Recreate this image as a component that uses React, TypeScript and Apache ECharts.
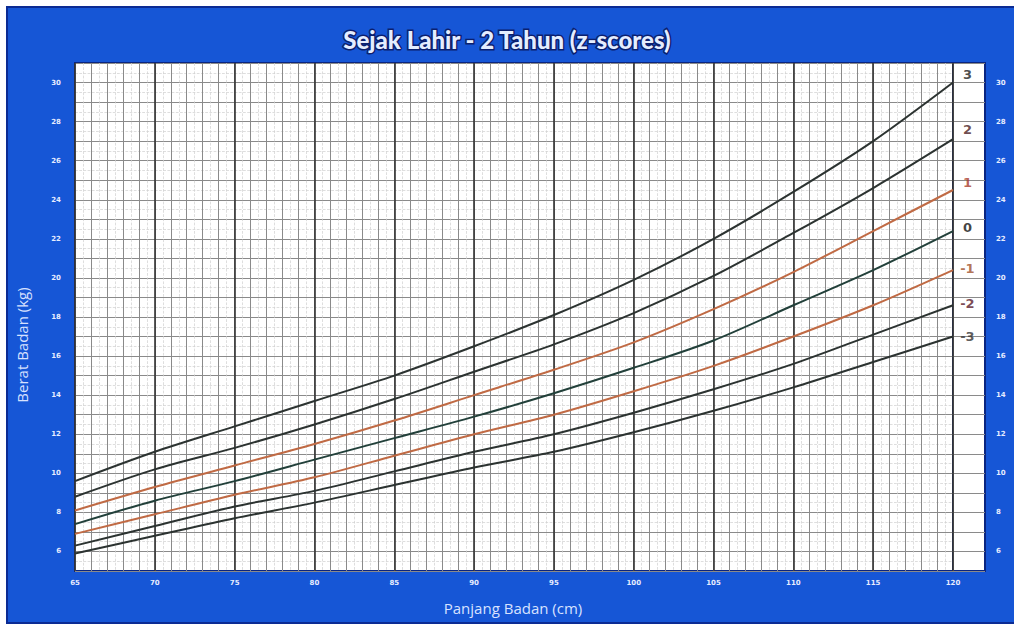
import React, { useEffect, useRef } from "react";
import * as echarts from "echarts";

const lengths = [65, 70, 75, 80, 85, 90, 95, 100, 105, 110, 115, 120];
const sdNeg3 = [5.9, 6.8, 7.7, 8.5, 9.4, 10.3, 11.1, 12.1, 13.2, 14.4, 15.7, 17.0];
const sdNeg2 = [6.3, 7.3, 8.3, 9.1, 10.1, 11.1, 12.0, 13.1, 14.3, 15.6, 17.1, 18.6];
const sdNeg1 = [6.9, 7.9, 8.9, 9.8, 10.9, 12.0, 13.0, 14.2, 15.5, 17.0, 18.6, 20.4];
const sd0 = [7.4, 8.6, 9.6, 10.7, 11.8, 12.9, 14.1, 15.4, 16.8, 18.6, 20.4, 22.4];
const sd1 = [8.1, 9.3, 10.4, 11.5, 12.7, 14.0, 15.3, 16.7, 18.4, 20.3, 22.4, 24.5];
const sd2 = [8.8, 10.2, 11.3, 12.5, 13.8, 15.2, 16.6, 18.2, 20.1, 22.3, 24.6, 27.1];
const sd3 = [9.6, 11.1, 12.4, 13.7, 15.0, 16.5, 18.1, 19.9, 22.0, 24.4, 27.0, 30.0];

const zNames = ["3", "2", "1", "0", "-1", "-2", "-3"];
const zLabelY = [30.4, 27.6, 24.9, 22.6, 20.5, 18.7, 17.0];

const DARK = "#2c3331";
const GREEN = "#22403a";
const ORANGE = "#c06a44";

const curves = [
  { name: "3", data: sd3, color: DARK, label: "#1e1e1e" },
  { name: "2", data: sd2, color: DARK, label: "#4a1c22" },
  { name: "1", data: sd1, color: ORANGE, label: "#a83a2a" },
  { name: "0", data: sd0, color: GREEN, label: "#111111" },
  { name: "-1", data: sdNeg1, color: ORANGE, label: "#a0502a" },
  { name: "-2", data: sdNeg2, color: DARK, label: "#5a1a2a" },
  { name: "-3", data: sdNeg3, color: DARK, label: "#333333" },
];

export default function App() {
  const ref = useRef<HTMLDivElement>(null);
  useEffect(() => {
    if (!ref.current) return;
    const chart = echarts.init(ref.current, null, { renderer: "svg" });
    const tickLabel = {
      fontSize: 7,
      color: "#e6ecff",
      fontWeight: "bold" as const,
      fontFamily: "DejaVu Sans",
    };
    const evenFmt = (v: number) => (Math.round(v) % 2 === 0 && v >= 6 && v <= 30 ? String(v) : "");
    const option: any = {
      animation: false,
      backgroundColor: "#ffffff",
      title: {
        text: "Sejak Lahir - 2 Tahun (z-scores)",
        left: "center",
        top: 22,
        textStyle: {
          color: "#e4edff",
          fontSize: 24,
          fontWeight: 900,
          fontFamily: "Lato",
          textBorderColor: "#0b1f6e",
          textBorderWidth: 3,
        },
      },
      graphic: [
        {
          type: "rect",
          z: -10,
          shape: { x: 7, y: 7, width: 1012, height: 616 },
          style: { fill: "#1656d6", stroke: "#0b2b93", lineWidth: 2 },
        },
        {
          type: "text",
          x: 22,
          y: 345,
          rotation: Math.PI / 2,
          style: {
            text: "Berat Badan (kg)",
            fill: "#d8e2ff",
            fontSize: 15,
            fontFamily: "Open Sans",
            align: "center",
            verticalAlign: "middle",
          },
        },
        {
          type: "text",
          x: 513,
          y: 608,
          style: {
            text: "Panjang Badan (cm)",
            fill: "#d8e2ff",
            fontSize: 15,
            fontFamily: "Open Sans",
            align: "center",
            verticalAlign: "middle",
          },
        },
      ],
      grid: [
        {
          left: 75,
          right: 61,
          top: 63,
          bottom: 55,
          show: true,
          backgroundColor: "#ffffff",
          borderColor: "#0a2580",
          borderWidth: 2,
        },
        {
          left: 953,
          right: 29,
          top: 63,
          bottom: 55,
          show: true,
          backgroundColor: "#ffffff",
          borderColor: "#0a2580",
          borderWidth: 2,
        },
      ],
      xAxis: [
        {
          type: "value",
          gridIndex: 0,
          position: "top",
          min: 65,
          max: 120,
          interval: 1,
          z: 0,
          axisLine: { show: false },
          axisTick: { show: false },
          axisLabel: { show: false },
          splitLine: { show: true, lineStyle: { color: "#8a8a8a", width: 1 } },
          minorTick: { show: false, splitNumber: 2 },
          minorSplitLine: { show: true, lineStyle: { color: "#d0d0d0", width: 0.7, type: "dashed" } },
        },
        {
          type: "value",
          gridIndex: 0,
          position: "bottom",
          min: 65,
          max: 120,
          interval: 5,
          z: 1,
          axisLine: { show: false },
          axisTick: { show: false },
          axisLabel: { ...tickLabel, margin: 8 },
          splitLine: { show: true, lineStyle: { color: "#333333", width: 1.6 } },
        },
        {
          type: "value",
          gridIndex: 1,
          min: 0,
          max: 1,
          show: false,
        },
      ],
      yAxis: [
        {
          type: "value",
          gridIndex: 0,
          position: "left",
          min: 5,
          max: 31,
          interval: 1,
          z: 0,
          axisLine: { show: false },
          axisTick: { show: false },
          axisLabel: { ...tickLabel, margin: 14, formatter: evenFmt },
          splitLine: { show: true, lineStyle: { color: "#8a8a8a", width: 1 } },
          minorTick: { show: false, splitNumber: 2 },
          minorSplitLine: { show: true, lineStyle: { color: "#d0d0d0", width: 0.7, type: "dashed" } },
        },
        {
          type: "value",
          gridIndex: 1,
          position: "right",
          min: 5,
          max: 31,
          interval: 1,
          axisLine: { show: false },
          axisTick: { show: false },
          axisLabel: { ...tickLabel, margin: 11, formatter: evenFmt },
          splitLine: { show: true, lineStyle: { color: "#8a8a8a", width: 1 } },
        },
      ],
      series: [
        ...curves.map((c) => ({
          type: "line",
          name: c.name,
          xAxisIndex: 1,
          yAxisIndex: 0,
          smooth: 0.3,
          showSymbol: false,
          z: 3,
          lineStyle: { color: c.color, width: 2 },
          data: lengths.map((x, i) => [x, c.data[i]]),
        })),
        {
          type: "scatter",
          xAxisIndex: 2,
          yAxisIndex: 1,
          symbolSize: 0,
          z: 4,
          data: zNames.map((t, i) => ({
            value: [0.45, zLabelY[i]],
            label: {
              show: true,
              position: "inside",
              formatter: t,
              color: curves[i].label,
              fontSize: 13,
              fontWeight: "bold",
              fontFamily: "DejaVu Sans",
            },
          })),
        },
      ],
    };
    chart.setOption(option);
    return () => chart.dispose();
  }, []);
  return (
    <div
      ref={ref}
      style={{ position: "fixed", left: 0, top: 0, width: 1014, height: 626 }}
    />
  );
}
